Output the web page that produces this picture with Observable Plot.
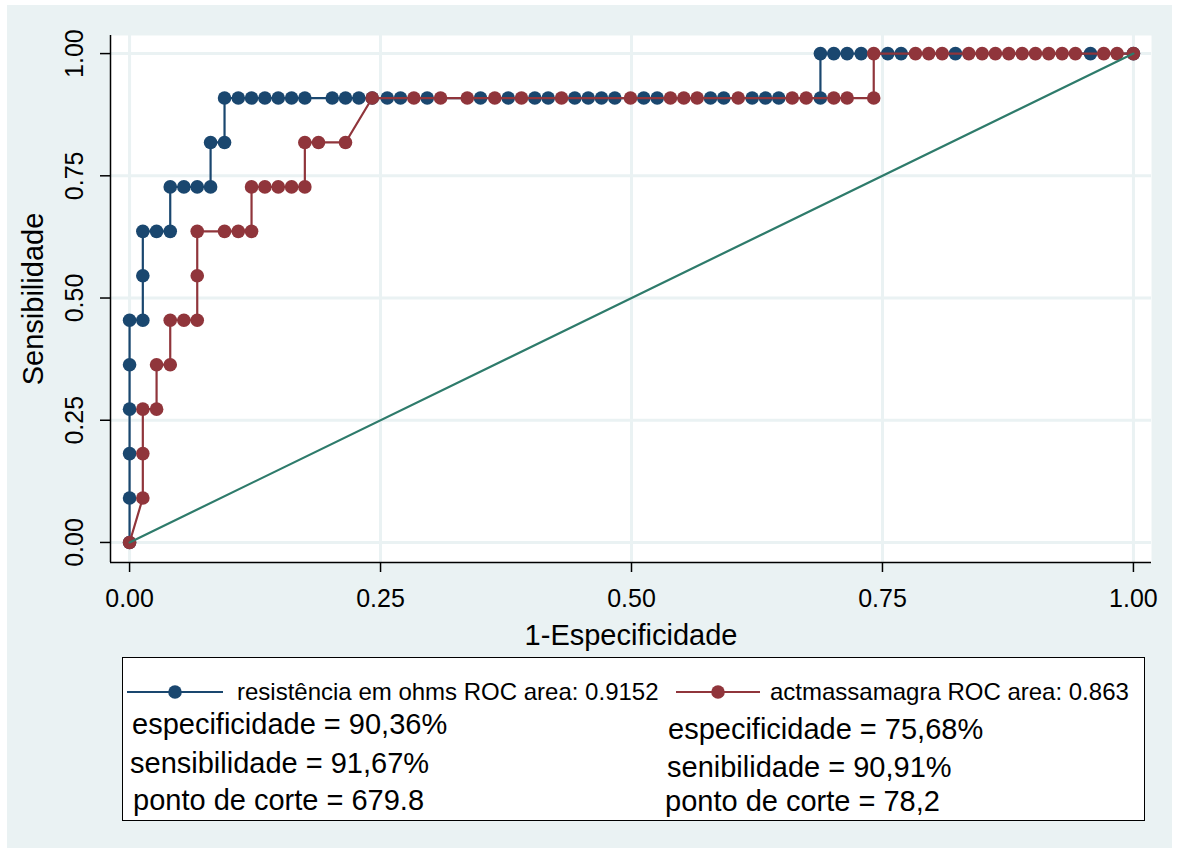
<!DOCTYPE html>
<html>
<head>
<meta charset="utf-8">
<script src="https://cdn.jsdelivr.net/npm/d3@7"></script>
<script src="https://cdn.jsdelivr.net/npm/@observablehq/plot@0.6"></script>
<style>
  html, body { margin: 0; padding: 0; background: #ffffff; }
  body { width: 1179px; height: 855px; position: relative; overflow: hidden; font-family: "Liberation Sans", Arial, sans-serif; color: #000; }
  #panel { position: absolute; left: 7px; top: 5px; width: 1165px; height: 843px; background: #eaf2f3; }
  #chart { position: absolute; left: 0; top: 0; }
  #legendbox { position: absolute; left: 122px; top: 657px; width: 1021px; height: 162px; border: 1.5px solid #000; background: #fff; }
  .lt { position: absolute; white-space: nowrap; line-height: 1; }
  .lab { font-size: 24px; }
  .stat { font-size: 29px; }
  .sym { position: absolute; }
</style>
</head>
<body>
<div id="panel"></div>
<div id="chart"></div>
<div id="legendbox"></div>
<script>
// ---- data ----
const xTicks = [0, 0.25, 0.5, 0.75, 1];
const yTicks = [0, 0.25, 0.5, 0.75, 1];

// resistência em ohms (1-especificidade, sensibilidade)
const resistencia = [
  [0,0],[0,0.0909],[0,0.1818],[0,0.2727],[0,0.3636],[0,0.4545],
  [0.0132,0.4545],[0.0132,0.5455],[0.0132,0.6364],
  [0.0269,0.6364],
  [0.0405,0.6364],[0.0405,0.7273],
  [0.0541,0.7273],[0.0674,0.7273],
  [0.0807,0.7273],[0.0807,0.8182],
  [0.0946,0.8182],[0.0946,0.9091],
  [0.1083,0.9091],[0.1215,0.9091],[0.1348,0.9091],[0.1481,0.9091],[0.1614,0.9091],[0.1746,0.9091],
  [0.2019,0.9091],[0.2151,0.9091],[0.2284,0.9091],[0.2417,0.9091],[0.2567,0.9091],[0.2699,0.9091],[0.2965,0.9091],
  [0.3496,0.9091],[0.3772,0.9091],[0.4037,0.9091],[0.4170,0.9091],[0.4435,0.9091],[0.4569,0.9091],[0.4701,0.9091],[0.4834,0.9091],
  [0.5122,0.9091],[0.5256,0.9091],[0.5787,0.9091],[0.5919,0.9091],[0.6202,0.9091],[0.6335,0.9091],[0.6467,0.9091],[0.6882,0.9091],
  [0.6882,1],[0.7015,1],[0.7148,1],[0.7288,1],[0.7553,1],[0.7686,1],[0.8227,1],[0.9572,1],[1,1]
];

// actmassamagra
const actmassamagra = [
  [0,0],[0.0132,0.0909],[0.0132,0.1818],[0.0132,0.2727],
  [0.0269,0.2727],[0.0269,0.3636],
  [0.0405,0.3636],[0.0405,0.4545],
  [0.0541,0.4545],[0.0674,0.4545],[0.0674,0.5455],[0.0674,0.6364],
  [0.0946,0.6364],[0.1083,0.6364],[0.1215,0.6364],[0.1215,0.7273],
  [0.1348,0.7273],[0.1481,0.7273],[0.1614,0.7273],[0.1746,0.7273],[0.1746,0.8182],
  [0.1882,0.8182],[0.2151,0.8182],
  [0.2417,0.9091],[0.2832,0.9091],[0.3098,0.9091],[0.3364,0.9091],[0.3638,0.9091],[0.3904,0.9091],[0.4303,0.9091],
  [0.4990,0.9091],[0.5388,0.9091],[0.5521,0.9091],[0.5654,0.9091],[0.6063,0.9091],[0.6601,0.9091],[0.6740,0.9091],
  [0.7015,0.9091],[0.7148,0.9091],[0.7413,0.9091],
  [0.7413,1],[0.7829,1],[0.7961,1],[0.8095,1],[0.8360,1],[0.8493,1],[0.8625,1],[0.8758,1],[0.8892,1],
  [0.9024,1],[0.9156,1],[0.9290,1],[0.9422,1],[0.9704,1],[0.9837,1],[1,1]
];

const reference = [[0,0],[1,1]];

const seriesNames = ["resistência em ohms ROC area: 0.9152", "actmassamagra ROC area: 0.863"];
const statsLeft = ["especificidade = 90,36%", "sensibilidade = 91,67%", "ponto de corte = 679.8"];
const statsRight = ["especificidade = 75,68%", "senibilidade = 90,91%", "ponto de corte = 78,2"];

const xDomain = [-0.019, 1.018];
const yDomain = [-0.041, 1.037];

const colBlue = "#1a476f";
const colRed = "#90353b";
const colRef = "#2e7b6b";
const bg = "#eaf2f3";

const fmt = d3.format(".2f");

const chart = Plot.plot({
  width: 1179,
  height: 650,
  marginLeft: 110,
  marginRight: 28,
  marginTop: 35,
  marginBottom: 88,
  style: "background: transparent; overflow: visible; font-family: 'Liberation Sans', Arial, sans-serif;",
  x: { domain: xDomain },
  y: { domain: yDomain },
  marks: [
    Plot.frame({ fill: "white", stroke: null }),
    Plot.gridX(xTicks, { stroke: bg, strokeOpacity: 1, strokeWidth: 3 }),
    Plot.gridY(yTicks, { stroke: bg, strokeOpacity: 1, strokeWidth: 3 }),
    Plot.ruleX([xDomain[0]], { stroke: "black", strokeWidth: 1.5 }),
    Plot.ruleY([yDomain[0]], { stroke: "black", strokeWidth: 1.5 }),
    Plot.axisX(xTicks, { tickFormat: fmt, tickSize: 10, tickPadding: 17, fontSize: 25, strokeWidth: 1.5, label: null, color: "#000" }),
    Plot.axisY(yTicks, { tickFormat: fmt, tickSize: 10, tickPadding: 18, tickRotate: -90, fontSize: 25, strokeWidth: 1.5, label: null, color: "#000" }),
    Plot.text(["1-Especificidade"], { frameAnchor: "bottom", lineAnchor: "middle", textAnchor: "middle", dy: 73, fontSize: 29, fill: "#000" }),
    Plot.text(["Sensibilidade"], { frameAnchor: "left", rotate: -90, textAnchor: "middle", lineAnchor: "middle", dx: -77, fontSize: 29, fill: "#000" }),
    Plot.line(resistencia, { x: d => d[0], y: d => d[1], stroke: colBlue, strokeWidth: 2.2 }),
    Plot.dot(resistencia, { x: d => d[0], y: d => d[1], r: 6.8, fill: colBlue, stroke: null }),
    Plot.line(actmassamagra, { x: d => d[0], y: d => d[1], stroke: colRed, strokeWidth: 2.2 }),
    Plot.dot(actmassamagra, { x: d => d[0], y: d => d[1], r: 6.8, fill: colRed, stroke: null }),
    Plot.line(reference, { x: d => d[0], y: d => d[1], stroke: colRef, strokeWidth: 2.2 })
  ]
});
document.getElementById("chart").appendChild(chart);

// ---- legend (below the SVG) ----
function addSym(left, top, w, color) {
  const ns = "http://www.w3.org/2000/svg";
  const s = document.createElementNS(ns, "svg");
  s.setAttribute("width", w); s.setAttribute("height", 16);
  s.setAttribute("class", "sym");
  s.style.left = left + "px"; s.style.top = top + "px";
  const l = document.createElementNS(ns, "line");
  l.setAttribute("x1", 0); l.setAttribute("x2", w); l.setAttribute("y1", 8); l.setAttribute("y2", 8);
  l.setAttribute("stroke", color); l.setAttribute("stroke-width", 2.2);
  const c = document.createElementNS(ns, "circle");
  c.setAttribute("cx", w / 2); c.setAttribute("cy", 8); c.setAttribute("r", 6.8); c.setAttribute("fill", color);
  s.appendChild(l); s.appendChild(c);
  document.body.appendChild(s);
}
function addText(txt, cls, left, top) {
  const d = document.createElement("div");
  d.className = "lt " + cls;
  d.textContent = txt;
  d.style.left = left + "px"; d.style.top = top + "px";
  document.body.appendChild(d);
}
addSym(127, 684, 96, colBlue);
addText(seriesNames[0], "lab", 237, 680);
addSym(676, 684, 84, colRed);
addText(seriesNames[1], "lab", 770, 680);

const leftX = [132, 130, 133], leftTop = [710, 749, 786];
const rightX = [668, 667, 665], rightTop = [715, 753, 787];
statsLeft.forEach((t, i) => addText(t, "stat", leftX[i], leftTop[i]));
statsRight.forEach((t, i) => addText(t, "stat", rightX[i], rightTop[i]));
</script>
</body>
</html>
